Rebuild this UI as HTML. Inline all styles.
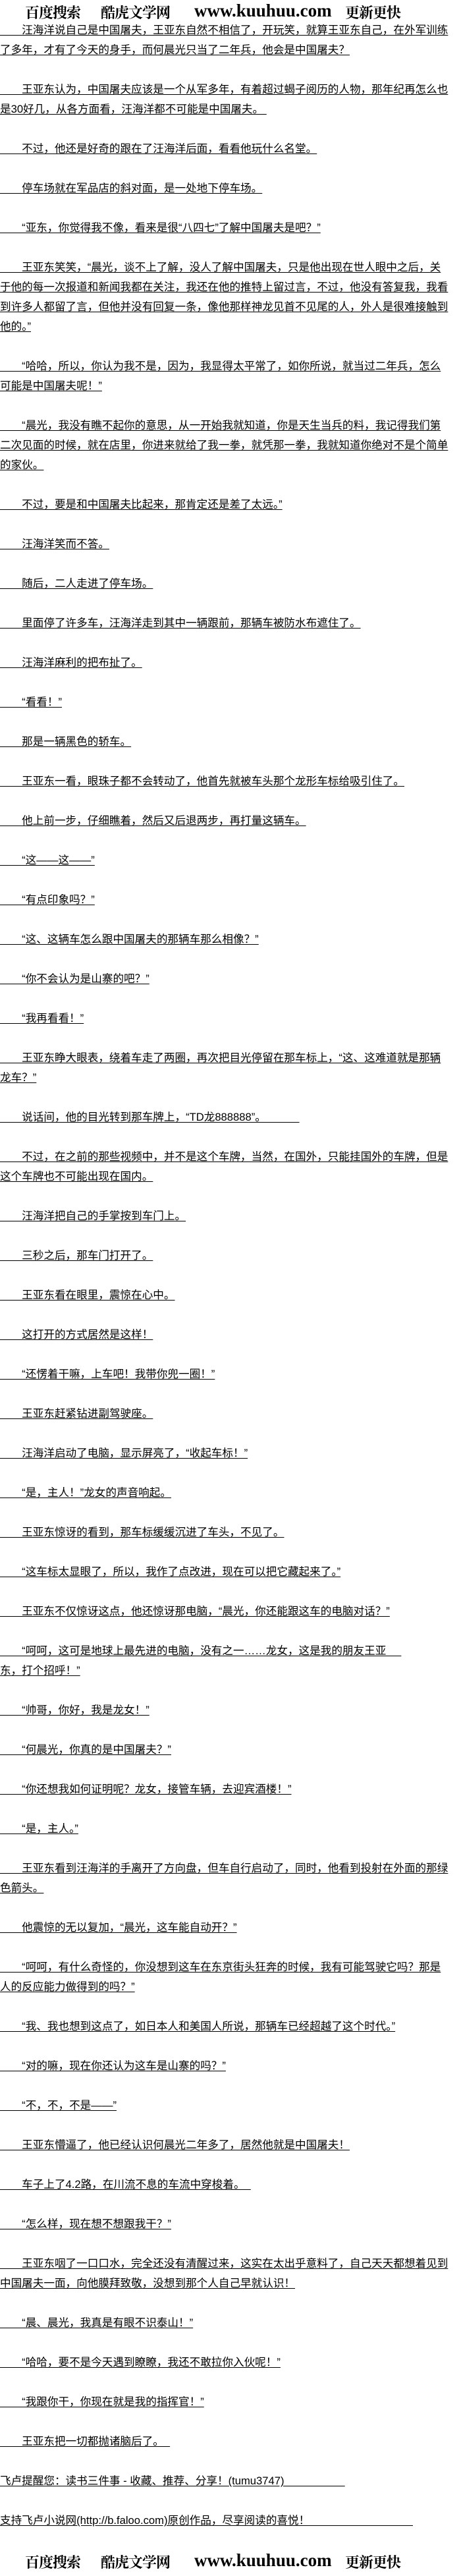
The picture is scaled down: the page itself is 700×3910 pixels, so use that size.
<!DOCTYPE html>
<html><head><meta charset="utf-8">
<style>
html,body{margin:0;padding:0;background:#fff;}
body{width:700px;height:3910px;position:relative;overflow:hidden;}
.banner{position:absolute;left:0;width:700px;height:34px;font-weight:bold;color:#000;}
.banner span{position:absolute;white-space:nowrap;}
.cn{font-family:"Noto Serif CJK SC","Liberation Serif",serif;font-size:22px;top:3px;letter-spacing:-1px;}
.en{font-family:"Liberation Serif",serif;font-size:27px;top:1px;}
#txt{position:absolute;left:0;top:31px;width:700px;font-family:"Liberation Sans","Noto Sans CJK SC",sans-serif;font-size:16.6px;line-height:30px;color:#000;white-space:nowrap;}
#txt p{margin:0 0 30px 0;}
#txt u{text-decoration:underline;text-underline-offset:2px;}
</style></head><body>
<div class="banner" style="top:0">
<span class="cn" style="left:38px">百度搜索</span>
<span class="cn" style="left:153px">酷虎文学网</span>
<span class="en" style="left:295px">www.kuuhuu.com</span>
<span class="cn" style="left:524px">更新更快</span>
</div>
<div id="txt">
<p><u>　　汪海洋说自己是中国屠夫，王亚东自然不相信了，开玩笑，就算王亚东自己，在外军训练</u><br><u>了多年，才有了今天的身手，而何晨光只当了二年兵，他会是中国屠夫？</u></p>
<p><u>　　王亚东认为，中国屠夫应该是一个从军多年，有着超过蝎子阅历的人物，那年纪再怎么也</u><br><u>是30好几，从各方面看，汪海洋都不可能是中国屠夫。&nbsp;</u></p>
<p><u>　　不过，他还是好奇的跟在了汪海洋后面，看看他玩什么名堂。</u></p>
<p><u>　　停车场就在军品店的斜对面，是一处地下停车场。</u></p>
<p><u>　　“亚东，你觉得我不像，看来是很“八四七”了解中国屠夫是吧？”</u></p>
<p><u>　　王亚东笑笑，“晨光，谈不上了解，没人了解中国屠夫，只是他出现在世人眼中之后，关</u><br><u>于他的每一次报道和新闻我都在关注，我还在他的推特上留过言，不过，他没有答复我，我看</u><br><u>到许多人都留了言，但他并没有回复一条，像他那样神龙见首不见尾的人，外人是很难接触到</u><br><u>他的。”</u></p>
<p><u>　　“哈哈，所以，你认为我不是，因为，我显得太平常了，如你所说，就当过二年兵，怎么</u><br><u>可能是中国屠夫呢！”</u></p>
<p><u>　　“晨光，我没有瞧不起你的意思，从一开始我就知道，你是天生当兵的料，我记得我们第</u><br><u>二次见面的时候，就在店里，你进来就给了我一拳，就凭那一拳，我就知道你绝对不是个简单</u><br><u>的家伙。</u></p>
<p><u>　　不过，要是和中国屠夫比起来，那肯定还是差了太远。”</u></p>
<p><u>　　汪海洋笑而不答。</u></p>
<p><u>　　随后，二人走进了停车场。</u></p>
<p><u>　　里面停了许多车，汪海洋走到其中一辆跟前，那辆车被防水布遮住了。</u></p>
<p><u>　　汪海洋麻利的把布扯了。</u></p>
<p><u>　　“看看！”</u></p>
<p><u>　　那是一辆黑色的轿车。</u></p>
<p><u>　　王亚东一看，眼珠子都不会转动了，他首先就被车头那个龙形车标给吸引住了。</u></p>
<p><u>　　他上前一步，仔细瞧着，然后又后退两步，再打量这辆车。</u></p>
<p><u>　　“这——这——”</u></p>
<p><u>　　“有点印象吗？”</u></p>
<p><u>　　“这、这辆车怎么跟中国屠夫的那辆车那么相像？”</u></p>
<p><u>　　“你不会认为是山寨的吧？”</u></p>
<p><u>　　“我再看看！”</u></p>
<p><u>　　王亚东睁大眼表，绕着车走了两圈，再次把目光停留在那车标上，“这、这难道就是那辆</u><br><u>龙车？”</u></p>
<p><u>　　说话间，他的目光转到那车牌上，“TD龙888888”。&nbsp;&nbsp;&nbsp;&nbsp;&nbsp;&nbsp;&nbsp;&nbsp;&nbsp;&nbsp;&nbsp;</u></p>
<p><u>　　不过，在之前的那些视频中，并不是这个车牌，当然，在国外，只能挂国外的车牌，但是</u><br><u>这个车牌也不可能出现在国内。</u></p>
<p><u>　　汪海洋把自己的手掌按到车门上。</u></p>
<p><u>　　三秒之后，那车门打开了。</u></p>
<p><u>　　王亚东看在眼里，震惊在心中。</u></p>
<p><u>　　这打开的方式居然是这样！</u></p>
<p><u>　　“还愣着干嘛，上车吧！我带你兜一圈！”</u></p>
<p><u>　　王亚东赶紧钻进副驾驶座。</u></p>
<p><u>　　汪海洋启动了电脑，显示屏亮了，“收起车标！”</u></p>
<p><u>　　“是，主人！”龙女的声音响起。</u></p>
<p><u>　　王亚东惊讶的看到，那车标缓缓沉进了车头，不见了。</u></p>
<p><u>　　“这车标太显眼了，所以，我作了点改进，现在可以把它藏起来了。”</u></p>
<p><u>　　王亚东不仅惊讶这点，他还惊讶那电脑，“晨光，你还能跟这车的电脑对话？”</u></p>
<p><u>　　“呵呵，这可是地球上最先进的电脑，没有之一……龙女，这是我的朋友王亚&nbsp;&nbsp;&nbsp;&nbsp;&nbsp;</u><br><u>东，打个招呼！”</u></p>
<p><u>　　“帅哥，你好，我是龙女！”</u></p>
<p><u>　　“何晨光，你真的是中国屠夫？”</u></p>
<p><u>　　“你还想我如何证明呢？龙女，接管车辆，去迎宾酒楼！”</u></p>
<p><u>　　“是，主人。”</u></p>
<p><u>　　王亚东看到汪海洋的手离开了方向盘，但车自行启动了，同时，他看到投射在外面的那绿</u><br><u>色箭头。</u></p>
<p><u>　　他震惊的无以复加，“晨光，这车能自动开？”</u></p>
<p><u>　　“呵呵，有什么奇怪的，你没想到这车在东京街头狂奔的时候，我有可能驾驶它吗？那是</u><br><u>人的反应能力做得到的吗？”</u></p>
<p><u>　　“我、我也想到这点了，如日本人和美国人所说，那辆车已经超越了这个时代。”</u></p>
<p><u>　　“对的嘛，现在你还认为这车是山寨的吗？”</u></p>
<p><u>　　“不，不，不是——”</u></p>
<p><u>　　王亚东懵逼了，他已经认识何晨光二年多了，居然他就是中国屠夫！</u></p>
<p><u>　　车子上了4.2路，在川流不息的车流中穿梭着。&nbsp;&nbsp;</u></p>
<p><u>　　“怎么样，现在想不想跟我干？”</u></p>
<p><u>　　王亚东咽了一口口水，完全还没有清醒过来，这实在太出乎意料了，自己天天都想着见到</u><br><u>中国屠夫一面，向他膜拜致敬，没想到那个人自己早就认识！</u></p>
<p><u>　　“晨、晨光，我真是有眼不识泰山！”</u></p>
<p><u>　　“哈哈，要不是今天遇到瞭瞭，我还不敢拉你入伙呢！”</u></p>
<p><u>　　“我跟你干，你现在就是我的指挥官！”</u></p>
<p><u>　　王亚东把一切都抛诸脑后了。&nbsp;&nbsp;</u></p>
<p><u>飞卢提醒您：读书三件事 - 收藏、推荐、分享！(tumu3747)&nbsp;&nbsp;&nbsp;&nbsp;&nbsp;&nbsp;&nbsp;&nbsp;&nbsp;&nbsp;&nbsp;&nbsp;&nbsp;&nbsp;&nbsp;&nbsp;&nbsp;&nbsp;&nbsp;&nbsp;</u></p>
<p><u>支持飞卢小说网(http://b.faloo.com)原创作品，尽享阅读的喜悦！&nbsp;&nbsp;&nbsp;&nbsp;&nbsp;&nbsp;&nbsp;&nbsp;&nbsp;&nbsp;&nbsp;&nbsp;&nbsp;&nbsp;&nbsp;&nbsp;&nbsp;&nbsp;&nbsp;&nbsp;&nbsp;&nbsp;&nbsp;&nbsp;&nbsp;&nbsp;&nbsp;&nbsp;&nbsp;&nbsp;&nbsp;&nbsp;&nbsp;&nbsp;</u></p>
</div>
<div class="banner" style="top:3870px">
<span class="cn" style="left:38px">百度搜索</span>
<span class="cn" style="left:153px">酷虎文学网</span>
<span class="en" style="left:295px">www.kuuhuu.com</span>
<span class="cn" style="left:524px">更新更快</span>
</div>
</body></html>
